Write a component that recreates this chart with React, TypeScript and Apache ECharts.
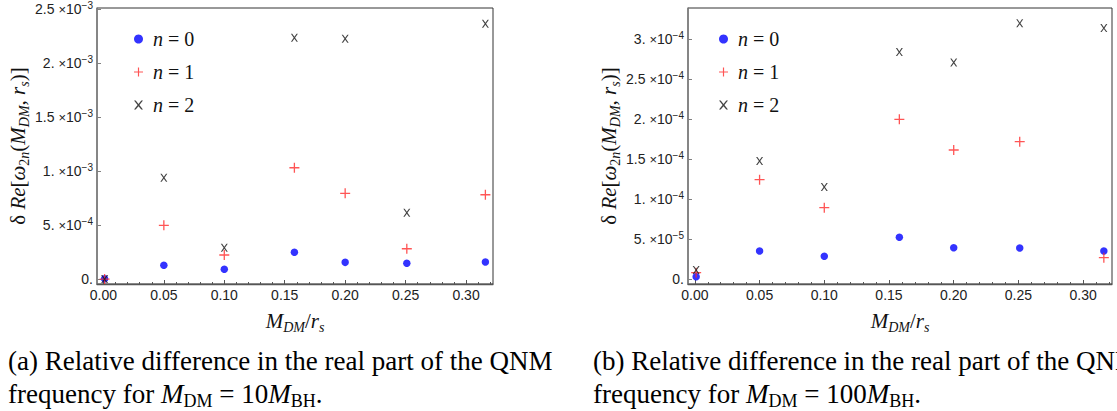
import React, { useEffect, useRef } from 'react';
import * as echarts from 'echarts';

// ---------------- data ----------------
const xValues = [0.001, 0.05, 0.1, 0.158, 0.2, 0.251, 0.316];

// (a) M_DM = 10 M_BH
const leftN0 = [5e-6, 1.3e-4, 9.3e-5, 2.5e-4, 1.57e-4, 1.48e-4, 1.6e-4];
const leftN1 = [2e-6, 5.0e-4, 2.25e-4, 1.033e-3, 7.96e-4, 2.83e-4, 7.83e-4];
const leftN2 = [2e-6, 9.41e-4, 2.93e-4, 2.237e-3, 2.228e-3, 6.17e-4, 2.367e-3];

// (b) M_DM = 100 M_BH
const rightN0 = [3.3e-6, 3.54e-5, 2.88e-5, 5.25e-5, 3.95e-5, 3.91e-5, 3.54e-5];
const rightN1 = [8.3e-6, 1.245e-4, 8.95e-5, 2.0e-4, 1.616e-4, 1.72e-4, 2.7e-5];
const rightN2 = [1.16e-5, 1.479e-4, 1.154e-4, 2.84e-4, 2.71e-4, 3.2e-4, 3.14e-4];

const seriesNames = ['n = 0', 'n = 1', 'n = 2'];

// ticks
const xMajorTicks = [0, 0.05, 0.1, 0.15, 0.2, 0.25, 0.3];
const xMinorTicks = [
  0.01, 0.02, 0.03, 0.04, 0.06, 0.07, 0.08, 0.09, 0.11, 0.12, 0.13, 0.14,
  0.16, 0.17, 0.18, 0.19, 0.21, 0.22, 0.23, 0.24, 0.26, 0.27, 0.28, 0.29,
  0.31, 0.32,
];
const leftYTicks = [0, 0.0005, 0.001, 0.0015, 0.002, 0.0025];
const leftYMantissa = ['0.', '5.', '1.', '1.5', '2.', '2.5'];
const leftYExponent = ['', '−4', '−3', '−3', '−3', '−3'];
const rightYTicks = [0, 0.00005, 0.0001, 0.00015, 0.0002, 0.00025, 0.0003];
const rightYMantissa = ['0.', '5.', '1.', '1.5', '2.', '2.5', '3.'];
const rightYExponent = ['', '−5', '−4', '−4', '−4', '−4', '−4'];

// axis ranges
const X_MIN = -0.0053;
const X_MAX = 0.3223;
const LEFT_Y_MIN = -4.35e-5;
const LEFT_Y_MAX = 2.512e-3;
const RIGHT_Y_MIN = -5.9e-6;
const RIGHT_Y_MAX = 3.391e-4;

// ---------------- styles ----------------
const SANS = '"Liberation Sans", Arial, sans-serif';
const SERIF = '"Liberation Serif", "Times New Roman", serif';
const PLUS = 'path://M4.35,0H5.65V10H4.35ZM0,4.35H10V5.65H0Z';
const XMARK =
  'path://M0,0L1.9,0L5,3.9L8.1,0L10,0L6,5.1L10,10L8.1,10L5,6.3L1.9,10L0,10L4,5.1Z';
const BLUE = '#0000ff';
const RED = '#ff2a2a';
const BLACK = '#151515';
const LABEL = '#222';

const tickRich = {
  m: { fontFamily: SANS, fontSize: 14, color: LABEL, lineHeight: 17 },
  t: { fontFamily: SANS, fontSize: 13, color: LABEL, lineHeight: 17 },
  s: { fontFamily: SANS, fontSize: 10, color: LABEL, lineHeight: 10, verticalAlign: 'top' },
};

const mathRich = (size: number) => ({
  u: { fontFamily: SERIF, fontSize: size, color: '#111', lineHeight: size + 6 },
  i: { fontFamily: SERIF, fontStyle: 'italic', fontSize: size, color: '#111', lineHeight: size + 6 },
  sb: {
    fontFamily: SERIF, fontSize: Math.round(size * 0.68), color: '#111',
    lineHeight: Math.round(size * 0.68) + 4, verticalAlign: 'bottom',
  },
  sbi: {
    fontFamily: SERIF, fontStyle: 'italic', fontSize: Math.round(size * 0.68), color: '#111',
    lineHeight: Math.round(size * 0.68) + 4, verticalAlign: 'bottom',
  },
});

const yFormatter = (ticks: number[], mant: string[], exp: string[]) => (v: number) => {
  let idx = 0;
  let best = Infinity;
  ticks.forEach((t, i) => {
    const d = Math.abs(t - v);
    if (d < best) {
      best = d;
      idx = i;
    }
  });
  const m = mant[idx];
  const e = exp[idx];
  return e ? `{m|${m} }{t|×}{m|10}{s|${e}}` : `{m|${m}}`;
};

const Y_TITLE = '{u|δ }{i|Re}{u|[}{i|ω}{sb|2}{sbi|n}{u|(}{i|M}{sbi|DM}{u|, }{i|r}{sbi|s}{u|)]}';
const X_TITLE = '{i|M}{sbi|DM}{u|/}{i|r}{sbi|s}';

function buildOption() {
  const xMain = (gridIndex: number) => ({
    type: 'value',
    gridIndex,
    min: X_MIN,
    max: X_MAX,
    position: 'bottom',
    axisLine: { show: true, onZero: false, lineStyle: { color: '#555', width: 1.3 } },
    axisTick: {
      show: true, inside: true, length: 4, customValues: xMajorTicks,
      lineStyle: { color: '#555', width: 1 },
    },
    axisLabel: {
      show: true, customValues: xMajorTicks, margin: 4,
      formatter: (v: number) => v.toFixed(2),
      fontFamily: SANS, fontSize: 14, color: LABEL,
    },
    splitLine: { show: false },
    name: X_TITLE,
    nameLocation: 'middle',
    nameGap: 23,
    nameTextStyle: { rich: mathRich(21) },
  });
  const xMinor = (gridIndex: number) => ({
    type: 'value',
    gridIndex,
    min: X_MIN,
    max: X_MAX,
    position: 'bottom',
    axisLine: { show: false, onZero: false },
    axisTick: {
      show: true, inside: true, length: 2, customValues: xMinorTicks,
      lineStyle: { color: '#555', width: 1 },
    },
    axisLabel: { show: false },
    splitLine: { show: false },
  });
  const yAxis = (
    gridIndex: number, min: number, max: number,
    ticks: number[], mant: string[], exp: string[],
  ) => ({
    type: 'value',
    gridIndex,
    min,
    max,
    position: 'left',
    axisLine: { show: true, onZero: false, lineStyle: { color: '#808080', width: 1.5 } },
    axisTick: {
      show: true, inside: true, length: 4, customValues: ticks,
      lineStyle: { color: '#808080', width: 1 },
    },
    axisLabel: {
      show: true, customValues: ticks, margin: 4,
      formatter: yFormatter(ticks, mant, exp),
      rich: tickRich,
    },
    splitLine: { show: false },
    name: Y_TITLE,
    nameLocation: 'middle',
    nameRotate: 90,
    nameGap: 66,
    nameTextStyle: { rich: mathRich(21) },
  });

  const scatter = (name: string, ys: number[], xi: number, yi: number) => {
    const base: any = {
      type: 'scatter',
      name,
      xAxisIndex: xi,
      yAxisIndex: yi,
      data: xValues.map((x, k) => [x, ys[k]]),
      silent: true,
    };
    if (name === 'n = 0') {
      base.symbol = 'circle';
      base.symbolSize = 7.5;
      base.itemStyle = { color: BLUE };
    } else if (name === 'n = 1') {
      base.symbol = PLUS;
      base.symbolSize = 10;
      base.itemStyle = { color: RED };
    } else {
      base.symbol = XMARK;
      base.symbolSize = [7, 8];
      base.itemStyle = { color: BLACK };
    }
    return base;
  };

  const legend = (left: number) => ({
    orient: 'vertical',
    left,
    top: 24,
    itemGap: 13,
    itemWidth: 9,
    itemHeight: 9,
    selectedMode: false,
    data: [
      { name: 'n = 0', icon: 'circle' },
      { name: 'n = 1', icon: PLUS },
      { name: 'n = 2', icon: XMARK },
    ],
    formatter: (name: string) => `{i|n}{u| = ${name.slice(-1)}}`,
    textStyle: {
      lineHeight: 20,
      rich: {
        i: { fontFamily: SERIF, fontStyle: 'italic', fontSize: 20, color: '#111', lineHeight: 20, padding: [0, 0, 0, 5] },
        u: { fontFamily: SERIF, fontSize: 20, color: '#111', lineHeight: 20 },
      },
    },
  });

  const captionRich = {
    u: { fontFamily: SERIF, fontSize: 27, color: '#000', lineHeight: 32 },
    i: { fontFamily: SERIF, fontStyle: 'italic', fontSize: 27, color: '#000', lineHeight: 32 },
    sb: { fontFamily: SERIF, fontSize: 18, color: '#000', lineHeight: 22, verticalAlign: 'bottom' },
  };

  return {
    animation: false,
    backgroundColor: '#ffffff',
    grid: [
      { left: 97, top: 8, width: 396, height: 276, show: true, borderColor: '#333', borderWidth: 1, backgroundColor: 'transparent' },
      { left: 688, top: 8, width: 424, height: 276, show: true, borderColor: '#333', borderWidth: 1, backgroundColor: 'transparent' },
    ],
    xAxis: [xMain(0), xMinor(0), xMain(1), xMinor(1)],
    yAxis: [
      yAxis(0, LEFT_Y_MIN, LEFT_Y_MAX, leftYTicks, leftYMantissa, leftYExponent),
      yAxis(1, RIGHT_Y_MIN, RIGHT_Y_MAX, rightYTicks, rightYMantissa, rightYExponent),
    ],
    legend: [legend(129), legend(714)],
    series: [
      scatter(seriesNames[0], leftN0, 0, 0),
      scatter(seriesNames[1], leftN1, 0, 0),
      scatter(seriesNames[2], leftN2, 0, 0),
      scatter(seriesNames[0], rightN0, 2, 1),
      scatter(seriesNames[1], rightN1, 2, 1),
      scatter(seriesNames[2], rightN2, 2, 1),
    ],
    graphic: [
      {
        type: 'text', x: 8, y: 361, silent: true,
        style: { text: '{u|(a) Relative difference in the real part of the QNM}', rich: captionRich, verticalAlign: 'middle' },
      },
      {
        type: 'text', x: 8, y: 394, silent: true,
        style: { text: '{u|frequency for }{i|M}{sb|DM}{u| = 10}{i|M}{sb|BH}{u|.}', rich: captionRich, verticalAlign: 'middle' },
      },
      {
        type: 'text', x: 593, y: 361, silent: true,
        style: { text: '{u|(b) Relative difference in the real part of the QNM}', rich: captionRich, verticalAlign: 'middle' },
      },
      {
        type: 'text', x: 593, y: 394, silent: true,
        style: { text: '{u|frequency for }{i|M}{sb|DM}{u| = 100}{i|M}{sb|BH}{u|.}', rich: captionRich, verticalAlign: 'middle' },
      },
    ],
  };
}

export default function App() {
  const ref = useRef<HTMLDivElement>(null);
  useEffect(() => {
    document.body.style.margin = '0';
    if (!ref.current) return;
    const chart = echarts.init(ref.current, undefined, { renderer: 'svg' });
    chart.setOption(buildOption() as any);
    return () => chart.dispose();
  }, []);
  return <div ref={ref} style={{ width: 1117, height: 411, overflow: 'hidden', background: '#fff' }} />;
}
